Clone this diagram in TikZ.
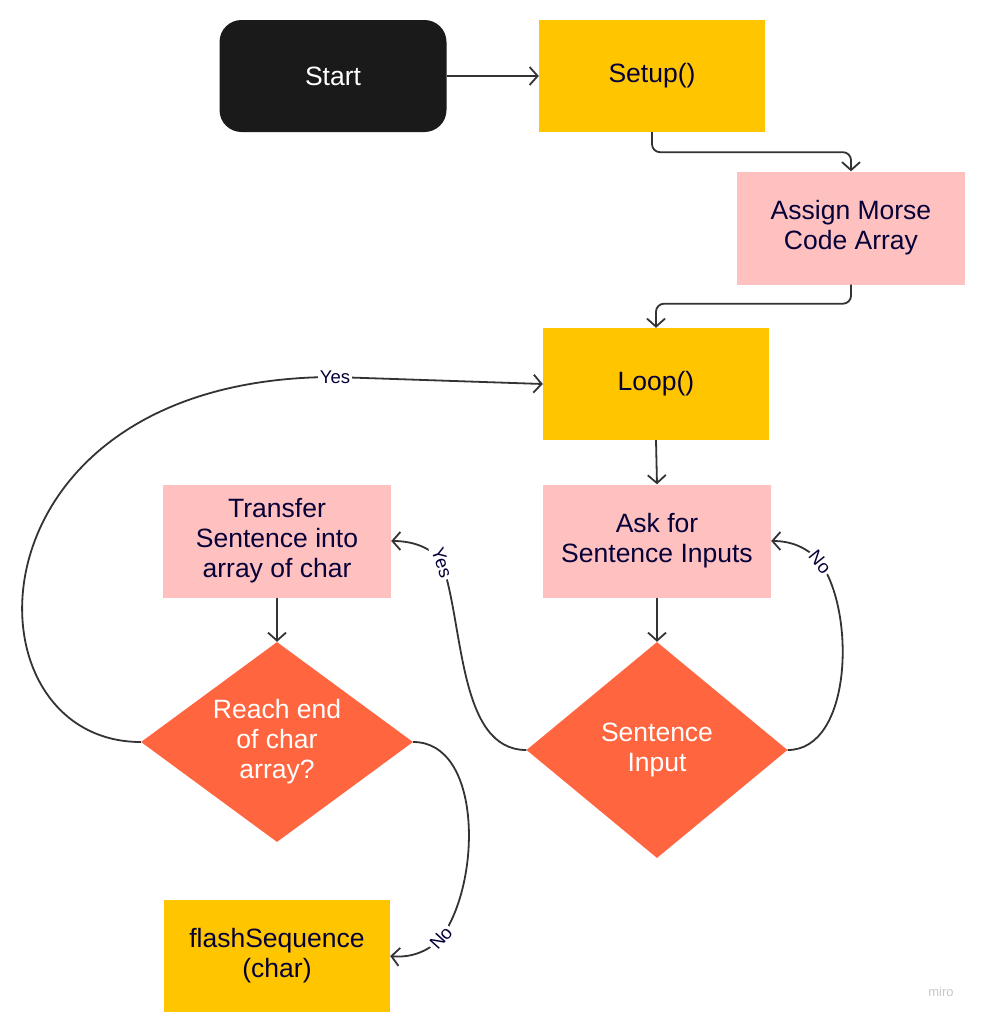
\documentclass[tikz,border=0pt]{standalone}
\usepackage{fontspec}
\setmainfont{Liberation Sans}
\usetikzlibrary{arrows.meta,shapes.geometric}
\definecolor{myyellow}{HTML}{FFC600}
\definecolor{mypink}{HTML}{FFC0C0}
\definecolor{myorange}{HTML}{FF663F}
\definecolor{myblack}{HTML}{1A1A1A}
\definecolor{mynavy}{HTML}{050038}
\definecolor{myline}{HTML}{333333}
\begin{document}
\begin{tikzpicture}[x=1pt,y=-1pt,
  base/.style={inner sep=0pt,align=center,font=\fontsize{26.5}{30}\selectfont},
  ybox/.style={base,fill=myyellow,text=mynavy,minimum width=226pt,minimum height=112pt},
  pbox/.style={base,fill=mypink,text=mynavy,minimum width=228pt,minimum height=113pt},
  startbox/.style={base,fill=myblack,text=white,rounded corners=22pt,minimum width=227pt,minimum height=112pt},
  decision/.style={inner sep=0pt,diamond,fill=myorange},
  dtext/.style={base,text=white},
  arr/.style={draw=myline,line width=1.8pt,-{Straight Barb[length=8pt,width=18pt,line width=1.8pt]}},
  lbl/.style={fill=white,text=mynavy,inner sep=2pt,font=\fontsize{18.5}{20}\selectfont}]
\useasboundingbox (0,0) rectangle (980,1020);
\fill[white] (0,0) rectangle (980,1020);

\node[startbox] (start) at (333,76) {Start};
\node[ybox] (setup) at (652,76) {Setup()};
\node[pbox] (assign) at (851,228) {Assign Morse\\Code Array};
\node[ybox] (loop) at (656,384) {Loop()};
\node[pbox] (ask) at (657,541) {Ask for\\Sentence Inputs};
\node[decision,minimum width=261pt,minimum height=216pt,
  label={[dtext]center:Sentence\\Input}] (sent) at (657,750) {};
\node[pbox] (transfer) at (277,541) {Transfer\\Sentence into\\array of char};
\node[decision,minimum width=272pt,minimum height=200pt,
  label={[dtext]center:Reach end\\of char\\array?}] (reach) at (277,742) {};
\node[ybox] (flash) at (277,956) {flashSequence\\(char)};
\node[text=black!22,font=\fontsize{13}{15}\selectfont] (miro) at (941,992) {miro};

\draw[arr] (start.east) -- (setup.west);
\draw[arr,rounded corners=8pt] (setup.south) -- ++(0,20) -| (assign.north);
\draw[arr,rounded corners=8pt] (assign.south) -- ++(0,19) -| (loop.north);
\draw[arr] (loop.south) -- (ask.north);
\draw[arr] (ask.south) -- (sent.north);
\draw[arr] (transfer.south) -- (reach.north);

\draw[arr] (sent.east) .. controls (852,750) and (856,612) .. (820,562)
  node[lbl,rotate=-51] {No}
  .. controls (808,548) and (792,541) .. (ask.east);
\draw[arr] (sent.west) .. controls (458,750) and (464,625) .. (442,563)
  node[lbl,rotate=-71] {Yes}
  .. controls (432,547) and (412,541) .. (transfer.east);
\draw[arr] (reach.west) .. controls (-42,742) and (-40,377) .. (335,377)
  node[lbl] {Yes}
  -- (loop.west);
\draw[arr] (reach.east) .. controls (482,742) and (482,882) .. (441,938)
  node[lbl,rotate=48] {No}
  .. controls (428,952) and (410,958) .. (flash.east);
\end{tikzpicture}
\end{document}
